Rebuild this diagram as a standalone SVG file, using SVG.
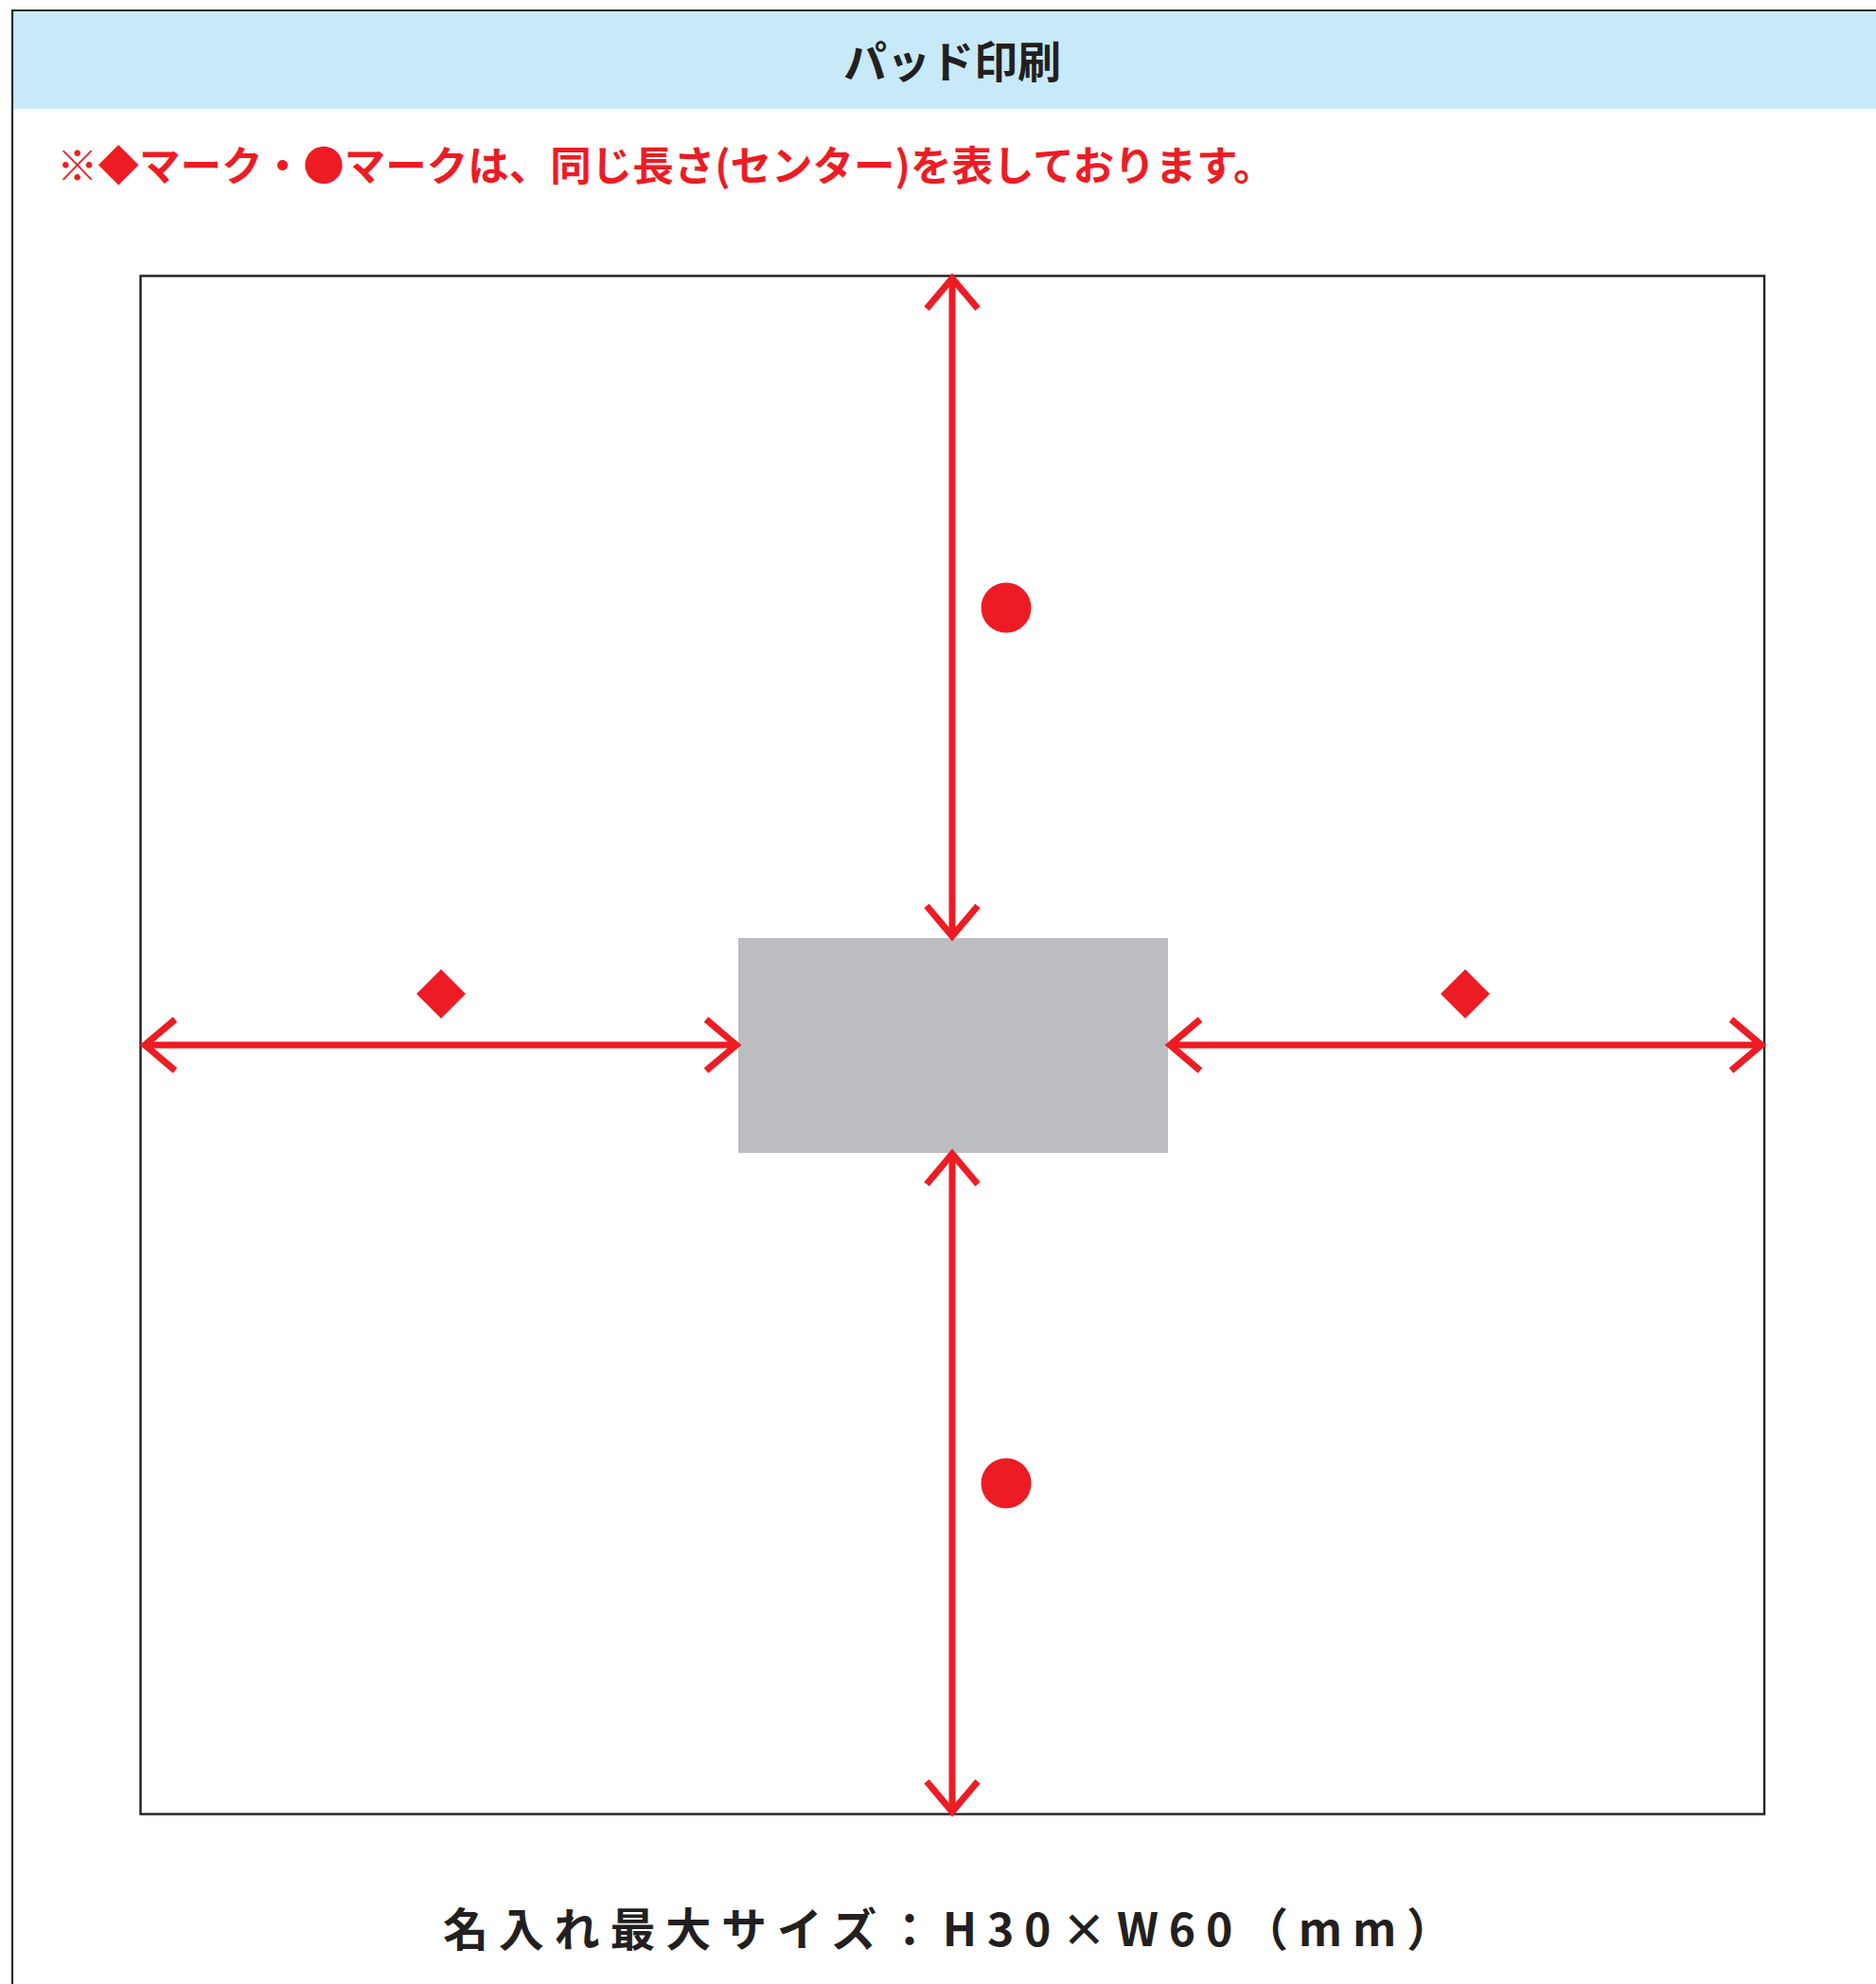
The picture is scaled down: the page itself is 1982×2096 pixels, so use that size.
<svg xmlns="http://www.w3.org/2000/svg" width="1982" height="2096" viewBox="0 0 1982 2096">
<defs>
<style>
.frame{fill:none;stroke:#2b2b2b;stroke-width:2.2}
.ln{fill:none;stroke:#ED1C24;stroke-width:7;stroke-linecap:butt}
.hd{fill:none;stroke:#ED1C24;stroke-width:7;stroke-linecap:butt;stroke-linejoin:miter;stroke-miterlimit:10}
.mk{fill:#ED1C24}
.jp{font-family:"Noto Sans CJK JP","Noto Sans CJK SC",sans-serif;font-weight:bold}
</style>
</defs>
<rect x="0" y="0" width="1982" height="2096" fill="#ffffff"/>
<g id="header">
<rect x="13" y="11" width="1969" height="104" fill="#C7E9F8"/>
<line class="frame" x1="13" y1="11" x2="1982" y2="11"/>
<line class="frame" x1="13" y1="10" x2="13" y2="2096"/>
<text class="jp" x="1006" y="82" font-size="46" fill="#231F20" text-anchor="middle">パッド印刷</text>
</g>
<g id="note">
<text class="jp" x="60" y="191" font-size="43.5" fill="#ED1C24">※◆マーク・●マークは、同じ長さ(センター)を表しております。</text>
</g>
<g id="item">
<rect x="148.5" y="291.5" width="1715.5" height="1625" fill="#ffffff" stroke="#231F20" stroke-width="2.4"/>
</g>
<g id="print-area">
<rect x="780" y="991" width="454" height="227" fill="#BCBDC0"/>
</g>
<g id="connectors">
<line class="ln" x1="1006" y1="296" x2="1006" y2="986"/>
<polyline class="hd" points="979,326 1006,294 1033,326"/>
<polyline class="hd" points="979,957 1006,989 1033,957"/>
<line class="ln" x1="1006" y1="1222" x2="1006" y2="1912"/>
<polyline class="hd" points="979,1251 1006,1219 1033,1251"/>
<polyline class="hd" points="979,1882 1006,1914 1033,1882"/>
<line class="ln" x1="155" y1="1104" x2="776" y2="1104"/>
<polyline class="hd" points="185,1077 153,1104 185,1131"/>
<polyline class="hd" points="746,1077 778,1104 746,1131"/>
<line class="ln" x1="1238" y1="1104" x2="1859" y2="1104"/>
<polyline class="hd" points="1268,1077 1236,1104 1268,1131"/>
<polyline class="hd" points="1829,1077 1861,1104 1829,1131"/>
</g>
<g id="marks">
<polygon class="mk" points="466,1024 492,1050 466,1076 440,1050"/>
<polygon class="mk" points="1548,1024 1574,1050 1548,1076 1522,1050"/>
<circle class="mk" cx="1063" cy="642" r="26.5"/>
<circle class="mk" cx="1063" cy="1567" r="26.5"/>
</g>
<g id="caption">
<text class="jp" x="468" y="2056" font-size="48" fill="#231F20" textLength="1066" lengthAdjust="spacing">名入れ最大サイズ：H30×W60（mm）</text>
</g>
</svg>
